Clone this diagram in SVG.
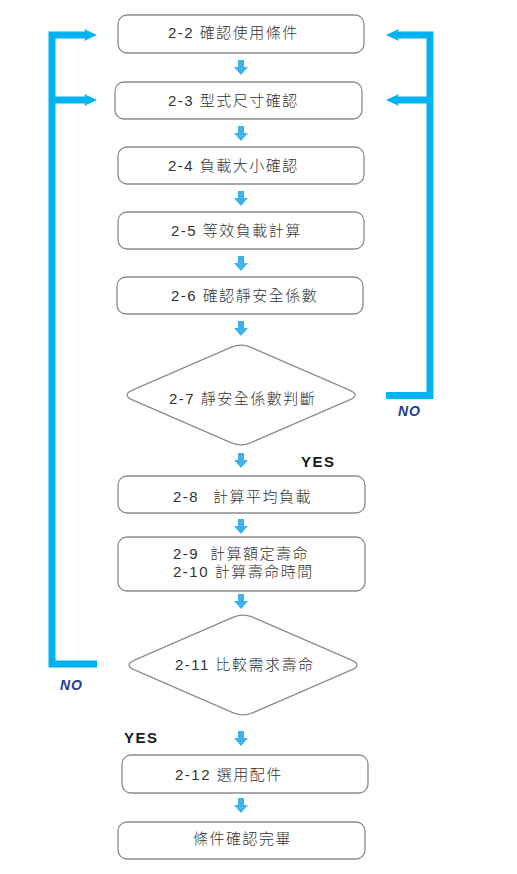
<svg xmlns="http://www.w3.org/2000/svg" width="517" height="874" viewBox="0 0 517 874">
<defs>
<style>
.box{fill:#fff;stroke:#8c8c8c;stroke-width:1.3}
.t{font-family:"Liberation Sans","Noto Sans CJK TC",sans-serif;font-size:15px;font-weight:300;fill:#333;letter-spacing:1.5px}
.loop{fill:none;stroke:#00b2ee;stroke-width:7}
.head{fill:#00b2ee}
.sm{fill:#3db3ea}
.no{font-family:"Liberation Sans",sans-serif;font-size:14px;font-weight:bold;font-style:italic;fill:#213f8f;letter-spacing:1px}
.yes{font-family:"Liberation Sans",sans-serif;font-size:15px;font-weight:bold;fill:#1a1a1a;letter-spacing:1.5px}
</style>
<path id="sa" d="M-3,0 H3 V7 H7 L0,15 L-7,7 H-3 Z"/>
<path id="hl" d="M0,0 L13,-6 L10,0 L13,6 Z"/>
<path id="hr" d="M0,0 L-13,-6 L-10,0 L-13,6 Z"/>
</defs>
<rect width="517" height="874" fill="#fff"/>

<g id="connectors">
<use href="#sa" class="sm" x="241" y="60"/>
<use href="#sa" class="sm" x="241" y="126"/>
<use href="#sa" class="sm" x="241" y="191"/>
<use href="#sa" class="sm" x="241" y="256"/>
<use href="#sa" class="sm" x="241" y="321"/>
<use href="#sa" class="sm" x="241" y="453"/>
<use href="#sa" class="sm" x="241" y="519"/>
<use href="#sa" class="sm" x="241" y="594"/>
<use href="#sa" class="sm" x="241" y="731"/>
<use href="#sa" class="sm" x="241" y="798"/>
<path class="loop" d="M396,35 H430 V395.5 H386"/>
<path class="loop" d="M396,100 H430"/>
<use href="#hl" class="head" x="386" y="35"/>
<use href="#hl" class="head" x="386" y="100"/>
<path class="loop" d="M87,35 H52 V664 H97"/>
<path class="loop" d="M87,100 H52"/>
<use href="#hr" class="head" x="97" y="35"/>
<use href="#hr" class="head" x="97" y="100"/>
<text class="no" x="398" y="416">NO</text>
<text class="no" x="60" y="690">NO</text>
<text class="yes" x="301" y="467">YES</text>
<text class="yes" x="124" y="743">YES</text>
</g>

<g id="n22"><rect class="box" x="118" y="15" width="246" height="38" rx="9"/><text class="t" x="168" y="38">2-2 確認使用條件</text></g>
<g id="n23"><rect class="box" x="115" y="82" width="247" height="37" rx="9"/><text class="t" x="168" y="106">2-3 型式尺寸確認</text></g>
<g id="n24"><rect class="box" x="118" y="147" width="246" height="37" rx="9"/><text class="t" x="168" y="171">2-4 負載大小確認</text></g>
<g id="n25"><rect class="box" x="118" y="212" width="246" height="37" rx="9"/><text class="t" x="171" y="236">2-5 等效負載計算</text></g>
<g id="n26"><rect class="box" x="117" y="277" width="246" height="37" rx="9"/><text class="t" x="171" y="301">2-6 確認靜安全係數</text></g>
<g id="n27"><path class="box" d="M133,389.8 L231.4,347.2 Q241,343 250.6,347.2 L349,389.8 Q361,395 349,400.2 L250.6,442.8 Q241,447 231.4,442.8 L133,400.2 Q121,395 133,389.8 Z"/><text class="t" x="169" y="404">2-7 靜安全係數判斷</text></g>
<g id="n28"><rect class="box" x="118" y="476" width="247" height="37" rx="9"/><text class="t" x="173" y="502">2-8<tspan x="213">計算平均負載</tspan></text></g>
<g id="n29"><rect class="box" x="118" y="537" width="247" height="54" rx="9"/><text class="t" x="173" y="559">2-9<tspan x="210">計算額定壽命</tspan></text><text class="t" x="173" y="577">2-10 計算壽命時間</text></g>
<g id="n211"><path class="box" d="M135,659.8 L233.4,617.2 Q243,613 252.6,617.2 L351,659.8 Q363,665 351,670.2 L252.6,712.8 Q243,717 233.4,712.8 L135,670.2 Q123,665 135,659.8 Z"/><text class="t" x="175" y="670">2-11 比較需求壽命</text></g>
<g id="n212"><rect class="box" x="122" y="755" width="246" height="38" rx="9"/><text class="t" x="175" y="780">2-12 選用配件</text></g>
<g id="nend"><rect class="box" x="118" y="822" width="247" height="37" rx="9"/><text class="t" x="193" y="844">條件確認完畢</text></g>
</svg>
